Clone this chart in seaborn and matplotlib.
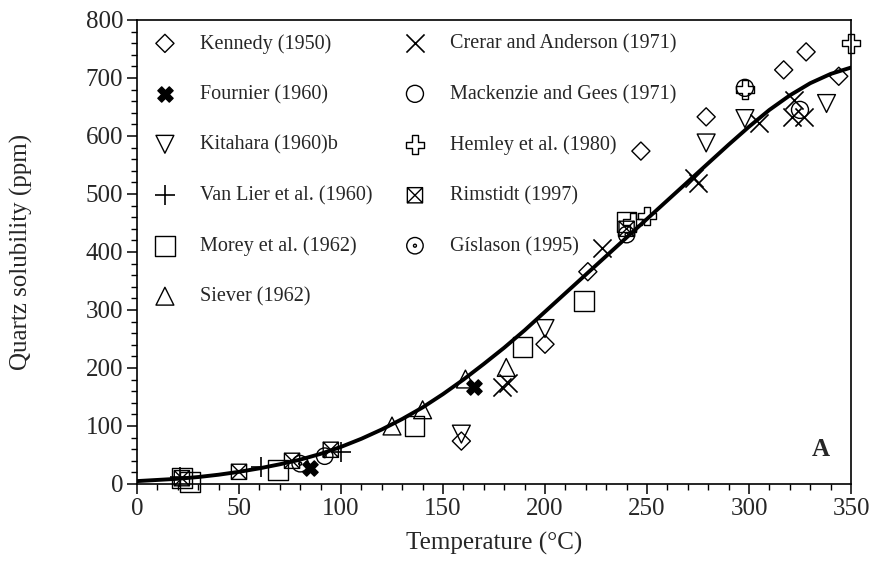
import numpy as np
import pandas as pd
import matplotlib
matplotlib.use("Agg")
import matplotlib.pyplot as plt
from matplotlib.path import Path
from matplotlib.ticker import MultipleLocator
import seaborn as sns

# Fitted quartz solubility curve (ppm SiO2 vs temperature, degC)
curve_t = [0, 10, 20, 30, 40, 50, 60, 70, 80, 90, 100, 110, 120, 130, 140, 150, 160, 170,
           180, 190, 200, 210, 220, 230, 240, 250, 260, 270, 280, 290, 300, 310, 320, 330,
           340, 350]
curve_ppm = [5, 7, 9, 12, 16, 21, 27, 34, 42, 52, 64, 78, 94, 112, 132, 155, 180, 207,
             235, 265, 297, 329, 361, 393, 425, 457, 489, 521, 553, 585, 616, 645, 670, 691,
             707, 718]

# Experimental data sets
kennedy_t = [159, 200, 221, 247, 279, 317, 328, 344]
kennedy_ppm = [74, 241, 366, 574, 633, 714, 745, 703]

fournier_t = [85, 165]
fournier_ppm = [28, 168]

kitahara_t = [159, 200, 279, 298, 338]
kitahara_ppm = [86, 268, 588, 630, 656]

vanlier_t = [21, 61, 100]
vanlier_ppm = [12, 29, 55]

morey_t = [22, 26, 69, 136, 189, 219, 240]
morey_ppm = [10, 4, 24, 100, 236, 316, 452]

siever_t = [125, 140, 161, 181]
siever_ppm = [100, 128, 181, 201]

crerar_t = [179, 182, 228, 273, 275, 305, 322, 321, 327]
crerar_ppm = [168, 175, 407, 528, 519, 622, 662, 633, 633]

mackenzie_t = [298, 325]
mackenzie_ppm = [683, 645]

hemley_t = [243, 250, 298, 350]
hemley_ppm = [452, 462, 680, 760]

rimstidt_t = [22, 50, 76, 95, 240]
rimstidt_ppm = [10, 21, 40, 59, 440]

gislason_t = [80, 92, 240]
gislason_ppm = [35, 48, 430]

# Custom marker shapes
boxed_x = Path(
    [(-1, -1), (1, -1), (1, 1), (-1, 1), (-1, -1), (-1, -1), (1, 1), (-1, 1), (1, -1)],
    [Path.MOVETO, Path.LINETO, Path.LINETO, Path.LINETO, Path.CLOSEPOLY,
     Path.MOVETO, Path.LINETO, Path.MOVETO, Path.LINETO])
circ = Path.unit_circle()
dot = Path(circ.vertices * 0.18, circ.codes)
dotted_circle = Path.make_compound_path(circ, dot)

sns.set_style("ticks")
plt.rcParams["font.family"] = ["Liberation Serif", "DejaVu Serif"]
plt.rcParams["mathtext.fontset"] = "stix"

fig = plt.figure(figsize=(8.77, 5.64), dpi=100)
ax = fig.add_axes([137 / 877, 80 / 564, 714 / 877, 464 / 564])

# (label, x, y, marker, size, style) ; style: "open", "solid" or "line"
series = [
    ("Kennedy (1950)", kennedy_t, kennedy_ppm, "D", 85, "open"),
    ("Fournier (1960)", fournier_t, fournier_ppm, "X", 120, "solid"),
    ("Kitahara (1960)b", kitahara_t, kitahara_ppm, "v", 165, "open"),
    ("Van Lier et al. (1960)", vanlier_t, vanlier_ppm, "+", 220, "line"),
    ("Morey et al. (1962)", morey_t, morey_ppm, "s", 200, "open"),
    ("Siever (1962)", siever_t, siever_ppm, "^", 165, "open"),
    ("Crerar and Anderson (1971)", crerar_t, crerar_ppm, "x", 170, "line"),
    ("Mackenzie and Gees (1971)", mackenzie_t, mackenzie_ppm, "o", 150, "open"),
    ("Hemley et al. (1980)", hemley_t, hemley_ppm, "P", 180, "open"),
    ("Rimstidt (1997)", rimstidt_t, rimstidt_ppm, boxed_x, 120, "open"),
    ("Gíslason (1995)", gislason_t, gislason_ppm, dotted_circle, 140, "open"),
]

for label, t, ppm, mk, size, style in series:
    df = pd.DataFrame({"T": t, "ppm": ppm})
    if style == "line":
        kw = dict(color="black", linewidth=1.2)
    elif style == "solid":
        kw = dict(facecolor="black", edgecolor="black", linewidth=1.0)
    else:
        kw = dict(facecolor="none", edgecolor="black", linewidth=1.0)
    sns.scatterplot(data=df, x="T", y="ppm", marker=mk, s=size, ax=ax,
                    label=label, zorder=3, clip_on=False, **kw)

curve_df = pd.DataFrame({"T": curve_t, "ppm": curve_ppm})
sns.lineplot(data=curve_df, x="T", y="ppm", color="black", linewidth=2.8, ax=ax,
             zorder=4)

ax.set_xlim(0, 350)
ax.set_ylim(0, 800)
ax.xaxis.set_major_locator(MultipleLocator(50))
ax.xaxis.set_minor_locator(MultipleLocator(10))
ax.yaxis.set_major_locator(MultipleLocator(100))
ax.yaxis.set_minor_locator(MultipleLocator(20))
ax.tick_params(which="major", direction="out", length=7, width=1.1, labelsize=18,
               color="black", pad=3)
ax.tick_params(which="minor", direction="out", length=4, width=1.0, color="black")
for sp in ax.spines.values():
    sp.set_linewidth(1.2)
    sp.set_color("black")

ax.set_xlabel("Temperature (°C)", fontsize=18, labelpad=9)
ax.set_ylabel("Quartz solubility (ppm)", fontsize=18, labelpad=38)

ax.text(0.958, 0.075, "A", transform=ax.transAxes, fontsize=18, fontweight="bold",
        ha="center", va="center")

ax.legend(ncol=2, loc="upper left", bbox_to_anchor=(0.025, 0.97), frameon=False,
          fontsize=14.5, handlelength=1.0, handletextpad=1.25, labelspacing=1.55,
          columnspacing=1.6, borderpad=0, borderaxespad=0, markerscale=1.0)

fig.savefig("out.png", dpi=100)
